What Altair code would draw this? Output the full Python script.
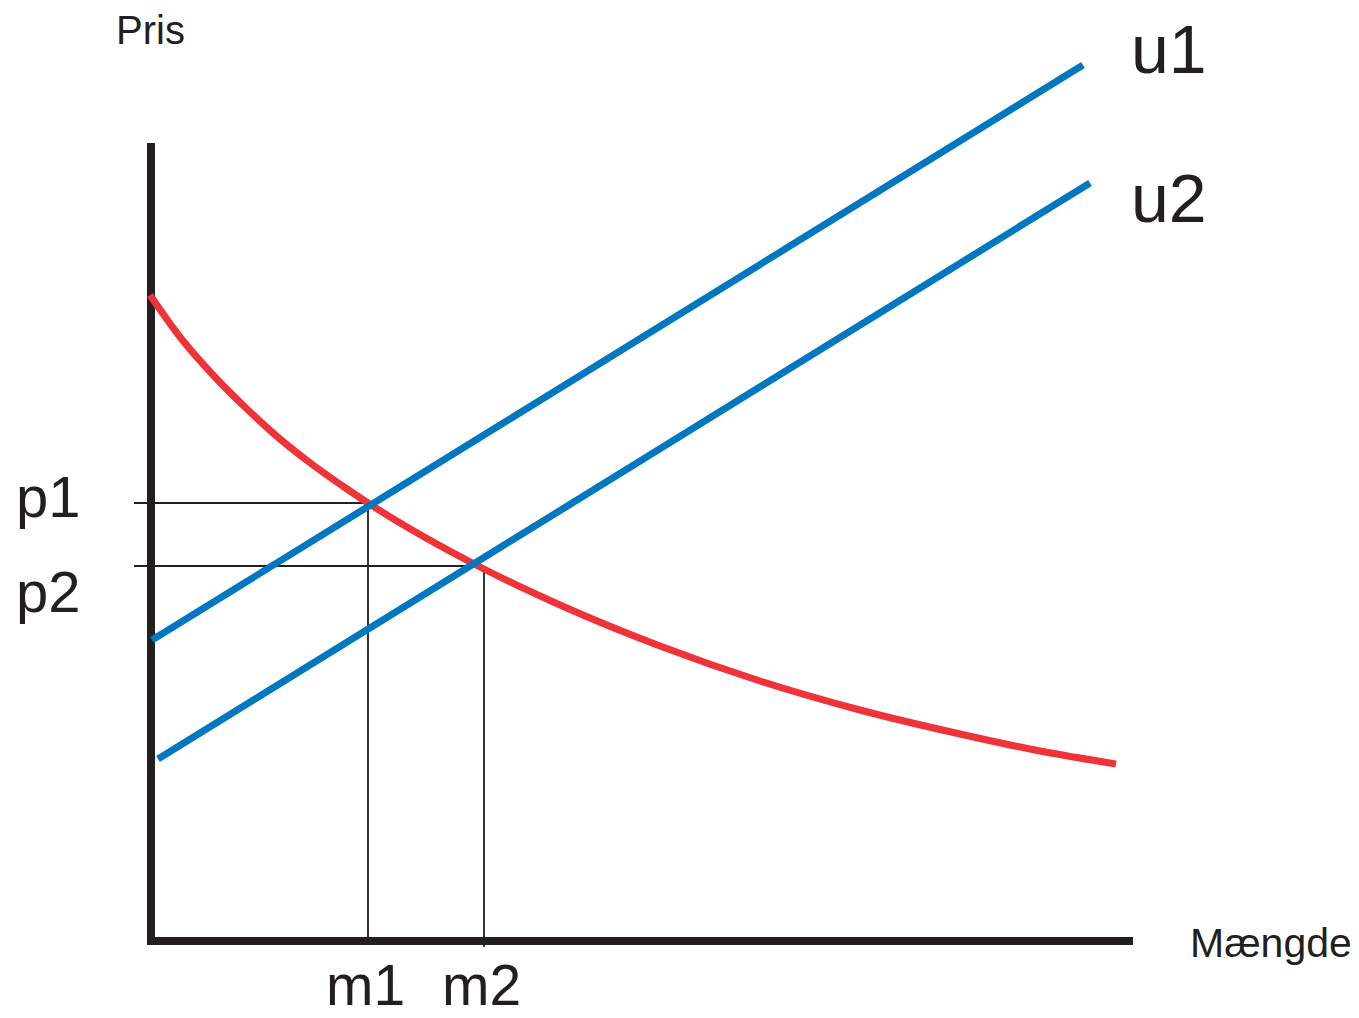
import altair as alt
import pandas as pd

# Coordinates: offsets from the axis origin (quantity to the right, price upward)
# Demand curve (red)
demand_q = [-1, 29, 62, 96, 129, 162, 196, 217, 329, 409, 509, 609, 709, 809, 889, 965]
demand_p = [646, 604, 566, 532, 502, 476, 452, 438, 374, 336, 295, 260, 231, 207, 190, 177]

# Supply curves (blue)
supply_names = ["u1", "u1", "u2", "u2"]
supply_q = [1, 932, 7, 939]
supply_p = [301, 876, 182, 758]

# Axes (thick) segments
axis_q1 = [0, -4]
axis_p1 = [-4, 0]
axis_q2 = [0, 982]
axis_p2 = [798, 0]

# Guide (thin) segments: p1, p2 horizontals, m1, m2 verticals
guide_q1 = [-17, -17, 217, 333]
guide_p1 = [438, 375, 0, -6]
guide_q2 = [218, 333, 217, 333]
guide_p2 = [438, 375, 438, 375]

# Labels
label_text = ["Pris", "u1", "u2", "p1", "p2", "m1", "m2", "Mængde"]
label_q = [-35, 980, 980, -135, -135, 175, 291, 1039]
label_p = [897, 868, 719, 424, 329, -64, -64, -16]
label_size = [40, 68, 68, 58, 58, 57, 57, 41]

INK = "#231f20"
BLUE = "#0077c1"
RED = "#ef3338"

xs = alt.Scale(domain=[-143, 1200], nice=False, zero=False)
ys = alt.Scale(domain=[-77, 933], nice=False, zero=False)

demand = pd.DataFrame({"q": demand_q, "p": demand_p, "i": list(range(len(demand_q)))})
supply = pd.DataFrame({"name": supply_names, "q": supply_q, "p": supply_p})
axes = pd.DataFrame({"q1": axis_q1, "p1": axis_p1, "q2": axis_q2, "p2": axis_p2})
guides = pd.DataFrame({"q1": guide_q1, "p1": guide_p1, "q2": guide_q2, "p2": guide_p2})
labels = pd.DataFrame({"t": label_text, "q": label_q, "p": label_p, "s": label_size})

guide_layer = alt.Chart(guides).mark_rule(color=INK, strokeWidth=1.8).encode(
    x=alt.X("q1:Q", scale=xs, axis=None),
    y=alt.Y("p1:Q", scale=ys, axis=None),
    x2="q2:Q",
    y2="p2:Q",
)

axis_layer = alt.Chart(axes).mark_rule(color=INK, strokeWidth=8).encode(
    x=alt.X("q1:Q", scale=xs, axis=None),
    y=alt.Y("p1:Q", scale=ys, axis=None),
    x2="q2:Q",
    y2="p2:Q",
)

supply_layer = alt.Chart(supply).mark_line(color=BLUE, strokeWidth=7).encode(
    x=alt.X("q:Q", scale=xs, axis=None),
    y=alt.Y("p:Q", scale=ys, axis=None),
    detail="name:N",
)

demand_layer = alt.Chart(demand).mark_line(
    color=RED, strokeWidth=7, interpolate="monotone"
).encode(
    x=alt.X("q:Q", scale=xs, axis=None),
    y=alt.Y("p:Q", scale=ys, axis=None),
    order="i:Q",
)

label_layer = alt.Chart(labels).mark_text(
    align="left", baseline="alphabetic", font="Liberation Sans", color=INK
).encode(
    x=alt.X("q:Q", scale=xs, axis=None),
    y=alt.Y("p:Q", scale=ys, axis=None),
    text="t:N",
    size=alt.Size("s:Q", scale=None),
)

chart = alt.layer(
    guide_layer, axis_layer, demand_layer, supply_layer, label_layer
).properties(
    width=1343,
    height=1010,
    padding=0,
    autosize=alt.AutoSizeParams(type="none"),
    background="white",
).configure_view(stroke=None)

chart.save("out.html", embed_options={"renderer": "svg", "actions": False})
